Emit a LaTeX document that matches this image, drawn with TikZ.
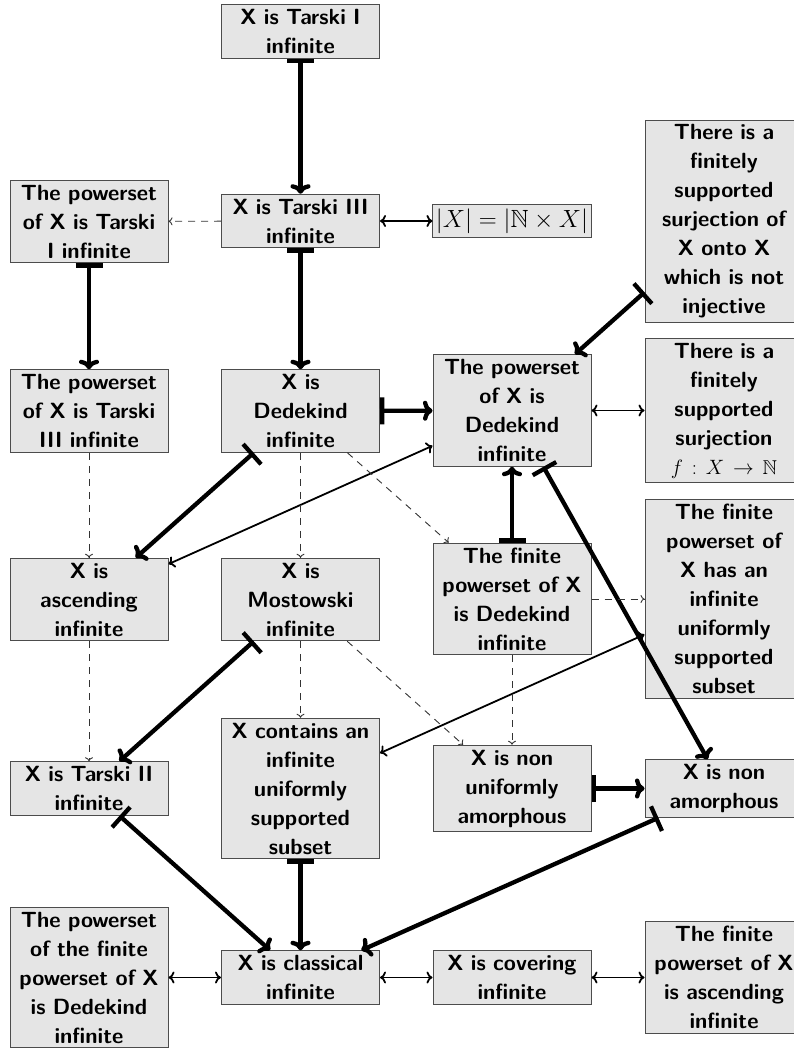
\documentclass[tikz,border=0pt]{standalone}
\usepackage{fontspec}
\usepackage{amssymb}
\usetikzlibrary{arrows.meta}
\tikzset{
  prop/.style={draw=black!70,line width=1pt,fill=gray!20,text width=152pt,align=center,
               inner xsep=3pt,inner ysep=4.5pt,
               font=\sffamily\bfseries\fontsize{22}{29}\selectfont},
  card/.style={draw=black!70,line width=1pt,fill=gray!20,inner xsep=3pt,inner ysep=4pt,
               font=\fontsize{24.88}{30}\selectfont},
  strict/.style={line width=4.3pt,{Bar[width=27pt]}-{To[width=20pt,length=9.5pt]}},
  equiv/.style={line width=1.8pt,{To[width=12pt,length=6pt]}-{To[width=12pt,length=6pt]}},
  weak/.style={line width=0.9pt,black!80,dash pattern=on 7pt off 6pt,-{To[width=8pt,length=4pt]}},
}
\begin{document}
\begin{tikzpicture}[x=1pt,y=-1pt]
  \useasboundingbox (0,0) rectangle (793,1049);

  % row 1 and 2
  \node[prop] (tarskiI) at (300.5,31.5) {X is Tarski I\\infinite};
  \node[prop] (ptarskiI) at (89,221.5) {The powerset\\of X is Tarski\\I infinite};
  \node[prop] (tarskiIII) at (300.5,221) {X is Tarski III\\infinite};
  \node[card] (card) at (512,221) {$|X|=|\mathbb{N}\times X|$};
  \node[prop] (surjinj) at (724,221.5) {There is a\\finitely\\supported\\surjection of\\X onto X\\which is not\\injective};

  % row 3
  \node[prop] (ptarskiIII) at (89,411) {The powerset\\of X is Tarski\\III infinite};
  \node[prop] (dedekind) at (300.5,411) {X is\\Dedekind\\infinite};
  \node[prop] (pdedekind) at (512,410.5) {The powerset\\of X is\\Dedekind\\infinite};
  \node[prop] (surjN) at (724,410.5) {There is a\\finitely\\supported\\surjection\\{\fontsize{20}{29}\selectfont$f:X\to\mathbb{N}$}};

  % row 4
  \node[prop] (ascending) at (89,599.5) {X is\\ascending\\infinite};
  \node[prop] (mostowski) at (300.5,599.5) {X is\\Mostowski\\infinite};
  \node[prop] (fpdedekind) at (512,599) {The finite\\powerset of X\\is Dedekind\\infinite};
  \node[prop] (fpus) at (724,599) {The finite\\powerset of\\X has an\\infinite\\uniformly\\supported\\subset};

  % row 5
  \node[prop] (tarskiII) at (89,788.5) {X is Tarski II\\infinite};
  \node[prop] (containsus) at (300.5,788.5) {X contains an\\infinite\\uniformly\\supported\\subset};
  \node[prop] (nonua) at (512,788.5) {X is non\\uniformly\\amorphous};
  \node[prop] (nonam) at (724,788.5) {X is non\\amorphous};

  % row 6
  \node[prop] (ppfdedekind) at (89,977.5) {The powerset\\of the finite\\powerset of X\\is Dedekind\\infinite};
  \node[prop] (classical) at (300.5,977.5) {X is classical\\infinite};
  \node[prop] (covering) at (512,977.5) {X is covering\\infinite};
  \node[prop] (fpascending) at (724,977.5) {The finite\\powerset of X\\is ascending\\infinite};

  % strict implications
  \draw[strict] (tarskiI) -- (tarskiIII);
  \draw[strict] (tarskiIII) -- (dedekind);
  \draw[strict] (ptarskiI) -- (ptarskiIII);
  \draw[strict] (dedekind) -- (pdedekind);
  \draw[strict] (surjinj) -- (pdedekind);
  \draw[strict] (dedekind) -- (ascending);
  \draw[strict] (fpdedekind) -- (pdedekind);
  \draw[strict] (pdedekind) -- (nonam);
  \draw[strict] (mostowski) -- (tarskiII);
  \draw[strict] (tarskiII) -- (classical);
  \draw[strict] (containsus) -- (classical);
  \draw[strict] (nonua) -- (nonam);
  \draw[strict] (nonam) -- (classical);

  % equivalences
  \draw[equiv] (tarskiIII) -- (card);
  \draw[equiv] (pdedekind) -- (surjN);
  \draw[equiv] (ascending) -- (pdedekind);
  \draw[equiv] (fpus) -- (containsus);
  \draw[equiv] (ppfdedekind) -- (classical);
  \draw[equiv] (classical) -- (covering);
  \draw[equiv] (covering) -- (fpascending);

  % implications
  \draw[weak] (tarskiIII) -- (ptarskiI);
  \draw[weak] (ptarskiIII) -- (ascending);
  \draw[weak] (ascending) -- (tarskiII);
  \draw[weak] (dedekind) -- (mostowski);
  \draw[weak] (mostowski) -- (containsus);
  \draw[weak] (dedekind) -- (fpdedekind);
  \draw[weak] (mostowski) -- (nonua);
  \draw[weak] (fpdedekind) -- (nonua);
  \draw[weak] (fpdedekind) -- (fpus);
\end{tikzpicture}
\end{document}
